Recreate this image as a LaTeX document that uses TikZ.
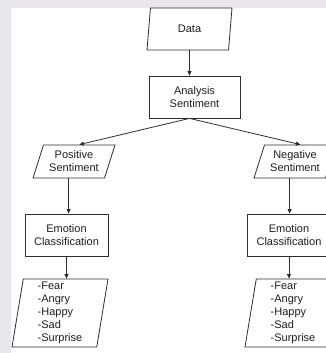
\documentclass[tikz,border=0pt]{standalone}
\usepackage{fontspec}
\setmainfont{Liberation Sans}
\usetikzlibrary{shapes.geometric, arrows.meta}
\definecolor{pagegray}{HTML}{E9E6ED}
\definecolor{linegray}{HTML}{2E2E2E}
\definecolor{textgray}{HTML}{1E1E1E}

\begin{document}
\begin{tikzpicture}[x=1pt, y=-1pt,
    font=\fontsize{11}{13}\selectfont, text=textgray,
    procbox/.style={draw=linegray, line width=0.8pt, rectangle, align=center, minimum height=42pt, inner sep=1pt},
    iobox/.style={trapezium, draw=linegray, line width=0.8pt, trapezium stretches body=true, align=center, inner sep=1pt},
    arr/.style={draw=linegray, line width=0.8pt, -{Triangle[length=4.5pt, width=4pt]}}]

    % page
    \useasboundingbox (0,0) rectangle (326,353);
    \fill[pagegray] (0,0) rectangle (326,353);
    \fill[white] (11,8) rectangle (326,353);

    % nodes
    \node[iobox, trapezium left angle=70.35, trapezium right angle=109.65, minimum width=85pt, minimum height=42pt] (data) at (189.5,29) {Data};
    \node[procbox, minimum width=91pt] (analysis) at (194.5,97) {Analysis\\Sentiment};
    \node[iobox, trapezium left angle=65.56, trapezium right angle=114.44, minimum width=82pt, minimum height=33pt] (pos) at (74,161.5) {Positive\\Sentiment};
    \node[iobox, trapezium left angle=65.56, trapezium right angle=114.44, minimum width=82pt, minimum height=33pt] (neg) at (295,161.5) {Negative\\Sentiment};
    \node[procbox, minimum width=83pt] (ec1) at (66.5,235) {Emotion\\Classification};
    \node[procbox, minimum width=83pt] (ec2) at (289,235) {Emotion\\Classification};
    \node[iobox, trapezium left angle=80, trapezium right angle=100, minimum width=96pt, minimum height=68pt, align=left] (list1) at (60,313) {-Fear\\-Angry\\-Happy\\-Sad\\-Surprise};
    \node[iobox, trapezium left angle=80, trapezium right angle=100, minimum width=96pt, minimum height=68pt, align=left] (list2) at (293,313) {-Fear\\-Angry\\-Happy\\-Sad\\-Surprise};

    % connectors
    \draw[arr] (data.south) -- (data.south |- analysis.north);
    \draw[arr] (data.south |- analysis.south) -- (pos.top side);
    \draw[arr] (data.south |- analysis.south) -- (neg.top side);
    \draw[arr] (pos.bottom side) -- (pos.bottom side |- ec1.north);
    \draw[arr] (neg.bottom side) -- (neg.bottom side |- ec2.north);
    \draw[arr] (ec1.south) -- (ec1.south |- list1.north);
    \draw[arr] (ec2.south) -- (ec2.south |- list2.north);
\end{tikzpicture}
\end{document}
